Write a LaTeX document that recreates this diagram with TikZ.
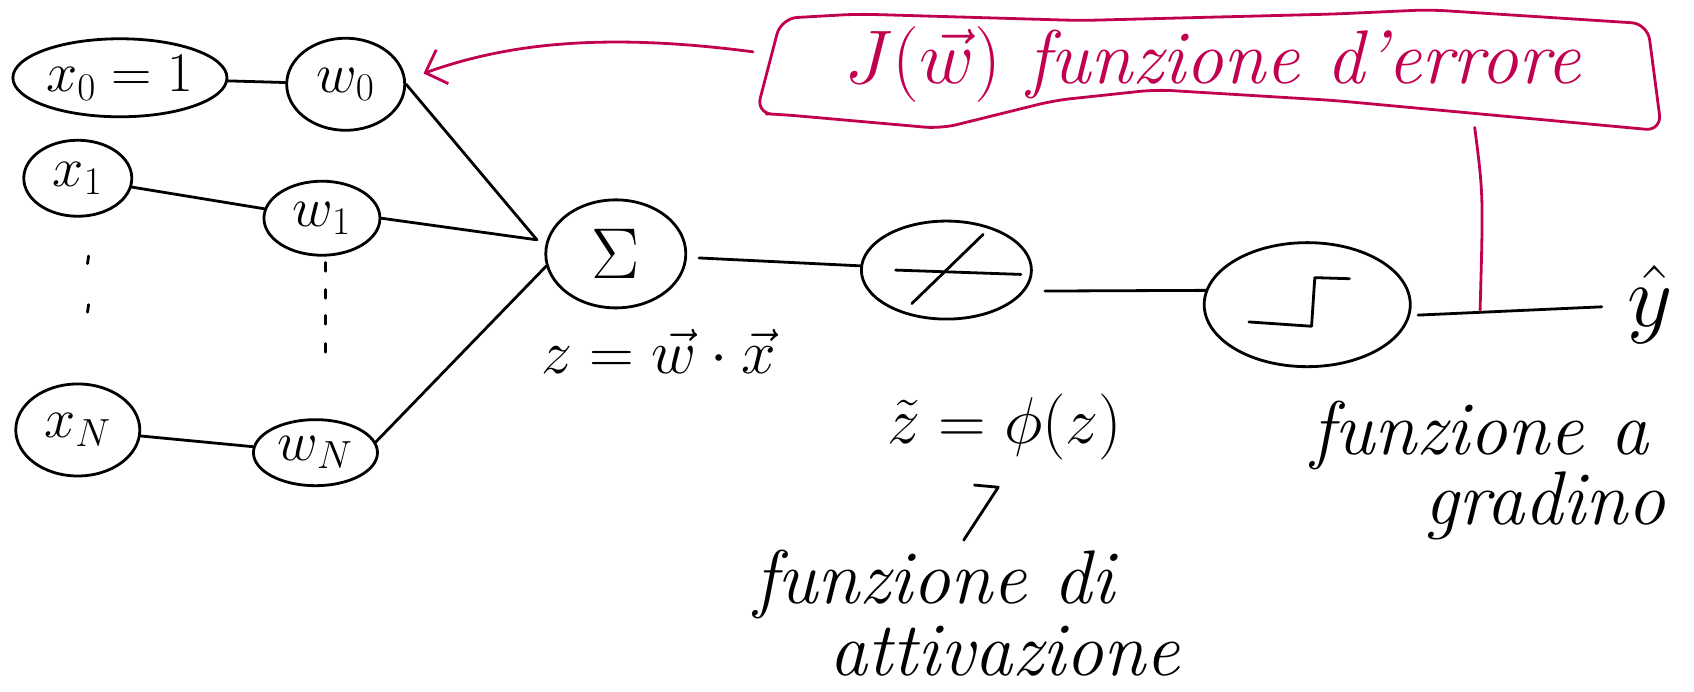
\RequirePackage{fix-cm}
\documentclass[tikz,border=0pt]{standalone}
\usetikzlibrary{shapes.geometric,arrows.meta}
\definecolor{errred}{RGB}{194,0,80}
\begin{document}
\begin{tikzpicture}[x=0.54pt,y=-0.54pt, line width=1.4pt, line cap=round, line join=round,
  unit/.style={draw, ellipse, inner sep=0pt, font=\fontsize{28}{32}\selectfont},
  lbl/.style={font=\fontsize{38}{42}\selectfont\itshape, inner sep=0pt},
  mlbl/.style={font=\fontsize{31}{36}\selectfont, inner sep=0pt},
  errc/.style={draw=errred, text=errred}]
\useasboundingbox (0,0) rectangle (1568,640);

% units
\node[unit, minimum width=107pt, minimum height=39pt] (x0) at (111,72) {$x_0 = 1$};
\node[unit, minimum width=59pt, minimum height=46pt] (w0) at (320,78) {$w_0$};
\node[unit, minimum width=54pt, minimum height=38pt] (x1) at (72,165) {$x_1$};
\node[unit, minimum width=58pt, minimum height=37pt] (w1) at (298,202) {$w_1$};
\node[unit, minimum width=62pt, minimum height=46pt] (xN) at (72,398) {$x_N$};
\node[unit, minimum width=62pt, minimum height=33pt] (wN) at (292,419) {$w_N$};
\node[unit, minimum width=70pt, minimum height=54pt, font=\fontsize{36}{40}\selectfont] (S) at (570,235) {$\Sigma$};
\node[unit, minimum width=85pt, minimum height=49pt] (phi) at (876,250) {};
\node[unit, minimum width=103pt, minimum height=62pt] (step) at (1210,282) {};
\node[font=\fontsize{44}{48}\selectfont, inner sep=0pt] (yhat) at (1527,282) {$\hat{y}$};

% dots
\foreach \y in {237,282} \draw (82,\y) -- (81,\y+7);
\foreach \y in {243,268,292,318} \draw (301,\y) -- (301,\y+8);

% inner glyphs
\draw (844,281) -- (910,217);
\draw (829,250) -- (945,254);
\draw (1156,298) -- (1214,302) -- (1217,257) -- (1249,258);

% connectors
\coordinate (Sin) at (497,222);
\draw (x0) -- (w0);
\draw (x1) -- (w1);
\draw (xN) -- (wN);
\draw (w0.east) -- (Sin);
\draw (w1.east) -- (Sin);
\draw (wN.10) -- (S.190);
\draw[shorten <=6pt] (S) -- (phi);
\draw[shorten <=10pt] (phi.-15) -- (step.172);
\draw[shorten <=4pt, shorten >=12pt] (step.-6) -- (yhat);

% labels
\node[mlbl] (zl) at (610,325) {$z = \vec{w}\cdot\vec{x}$};
\node[mlbl, font=\fontsize{33}{38}\selectfont] (zt) at (930,395) {$\tilde{z} = \phi(z)$};
\coordinate (h1) at (902,449);
\coordinate (h2) at (924,451);
\coordinate (h3) at (892,500);
\draw (h1) -- (h2) -- (h3);
\node[lbl] (att1) at (865,541) {funzione di};
\node[lbl] (att2) at (930,603) {attivazione};
\node[lbl] (st1) at (1370,403) {funzione a};
\node[lbl] (st2) at (1430,468) {gradino};

% error box
\draw[errc, rounded corners=8pt] (723,17) -- (794,13) -- (1000,19) -- (1235,13) -- (1323,9)
  -- (1525,22) -- (1538,121) -- (1235,93) -- (1070,83) -- (976,93) -- (871,119)
  -- (724,106) -- (700,105) -- cycle;
\node[lbl, text=errred] (J) at (1122,60) {$J(\vec{w})$ funzione d'errore};
\coordinate (boxL) at (697,48);
\coordinate (arrtip) at (392,68);
\draw[errc, -{Straight Barb[length=9pt,width=18pt]}] (boxL) .. controls (560,30) and (470,40) .. (arrtip);
\coordinate (boxB) at (1365,118);
\coordinate (tap) at (1370,287);
\draw[errc] (boxB) .. controls (1373,180) .. (tap);
\end{tikzpicture}
\end{document}
